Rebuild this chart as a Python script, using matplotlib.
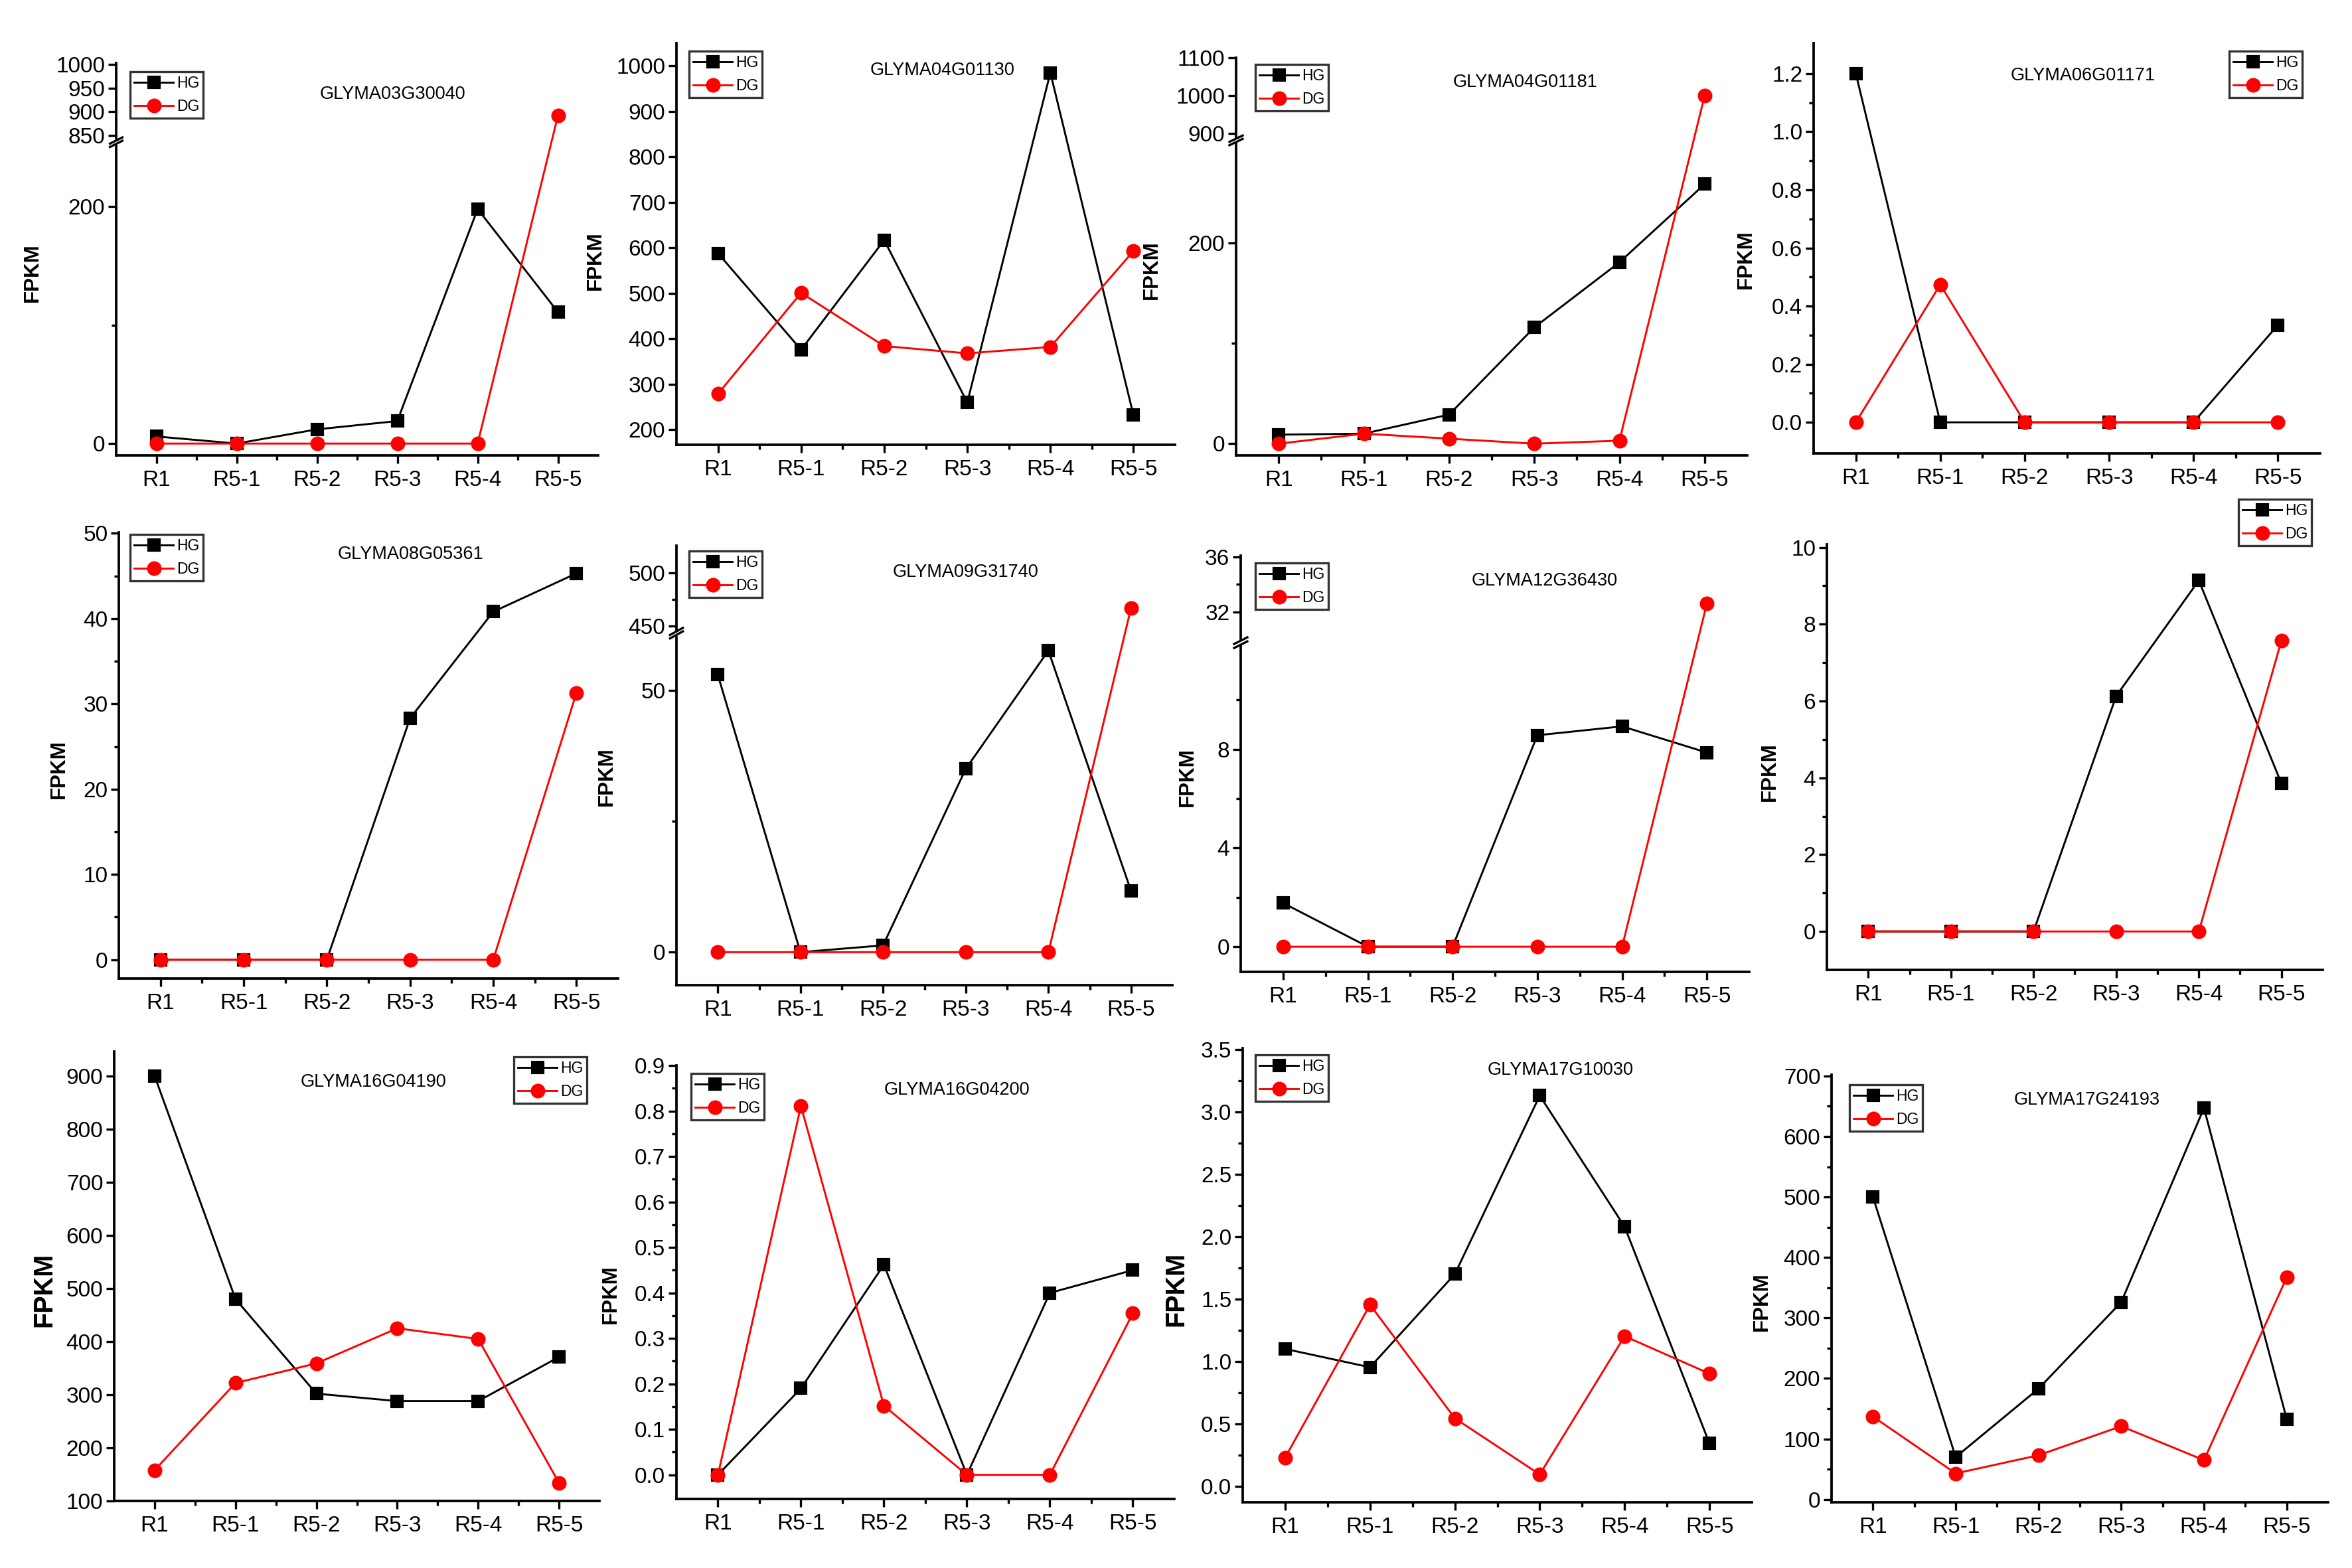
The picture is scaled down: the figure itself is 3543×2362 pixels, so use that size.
import numpy as np
import matplotlib.pyplot as plt
from matplotlib.ticker import FixedLocator, FormatStrFormatter
from matplotlib.patches import Rectangle

plt.rcParams['font.family'] = ['Liberation Sans', 'DejaVu Sans']

# ---- data ----
stages = ['R1', 'R5-1', 'R5-2', 'R5-3', 'R5-4', 'R5-5']
genes = ['GLYMA03G30040', 'GLYMA04G01130', 'GLYMA04G01181', 'GLYMA06G01171',
         'GLYMA08G05361', 'GLYMA09G31740', 'GLYMA12G36430', '',
         'GLYMA16G04190', 'GLYMA16G04200', 'GLYMA17G10030', 'GLYMA17G24193']
hg = [
    [6, 0, 12, 19, 198, 111],
    [588, 376, 617, 260, 985, 232],
    [9, 10, 29, 116, 181, 259],
    [1.2, 0, 0, 0, 0, 0.335],
    [0, 0, 0, 28.3, 40.8, 45.3],
    [53.0, 0, 1.3, 35.0, 57.6, 11.7],
    [1.77, 0, 0, 8.57, 8.93, 7.87],
    [0, 0, 0, 6.13, 9.14, 3.85],
    [900, 480, 302, 288, 288, 371],
    [0, 0.19, 0.462, 0, 0.40, 0.45],
    [1.10, 0.953, 1.70, 3.13, 2.08, 0.343],
    [500, 70, 183, 326, 647, 133],
]
dg = [
    [0, 0, 0, 0, 0, 892],
    [279, 501, 384, 368, 382, 593],
    [0, 10, 5, 0, 3, 1000],
    [0, 0.474, 0, 0, 0, 0],
    [0, 0, 0, 0, 0, 31.3],
    [0, 0, 0, 0, 0, 467],
    [0, 0, 0, 0, 0, 32.6],
    [0, 0, 0, 0, 0, 7.58],
    [158, 322, 359, 425, 405, 134],
    [0, 0.811, 0.152, 0, 0, 0.355],
    [0.229, 1.454, 0.544, 0.094, 1.202, 0.902],
    [137, 43, 73, 121, 65, 367],
]

# ---- layout (pixels in the 3543x2362 image) ----
W, H = 3543, 2362
# left, right, top, bottom
boxes = [
    (175, 901, 95, 686), (1019, 1770, 65, 670), (1862, 2632, 87, 686), (2732, 3495, 65, 683),
    (179, 931, 802, 1474), (1019, 1766, 822, 1484), (1869, 2635, 837, 1464), (2752, 3499, 820, 1461),
    (172, 903, 1584, 2261), (1019, 1769, 1605, 2258), (1872, 2639, 1579, 2263), (2759, 3507, 1619, 2263),
]
ylims = [(-10, 1003), (167, 1050), (-11.7, 1100), (-0.107, 1.305),
         (-2.2, 50.1), (-6.3, 525.3), (-1.02, 36.1), (-1.0, 10.08),
         (100, 946), (-0.053, 0.9), (-0.129, 3.51), (-4.7, 702)]
# broken axes: (top of lower part, bottom of upper part, lower fraction, gap fraction)
breaks = [(253, 839, 0.794, 0.0086), None, (301, 886.7, 0.788, 0.0085), None,
          None, (60.6, 445.2, 0.797, 0.0079), (12.24, 29.9, 0.786, 0.0097), None,
          None, None, None, None]
major = [[0, 200, 850, 900, 950, 1000], list(range(200, 1001, 100)), [0, 200, 900, 1000, 1100],
         list(np.arange(0, 1.21, 0.2)),
         list(range(0, 51, 10)), [0, 50, 450, 500], [0, 4, 8, 32, 36], list(range(0, 11, 2)),
         list(range(100, 901, 100)), list(np.arange(0, 0.91, 0.1)), list(np.arange(0, 3.51, 0.5)),
         list(range(0, 701, 100))]
minor = [[100], [], [100], list(np.arange(0.1, 1.3, 0.2)),
         list(range(5, 50, 10)), [25, 475], [2, 6, 10, 34], list(range(1, 10, 2)),
         [], list(np.arange(0.05, 0.9, 0.1)), list(np.arange(0.25, 3.5, 0.5)), list(range(50, 700, 100))]
fmts = ['%d', '%d', '%d', '%.1f', '%d', '%d', '%d', '%d', '%d', '%.1f', '%.1f', '%d']
legend_pos = [(196, 108), (1038, 77), (1891, 97), (3358, 77),
              (196, 805), (1038, 830), (1891, 848), (3372, 752),
              (774, 1592), (1041, 1617), (1891, 1589), (2786, 1634)]
title_pos = [(591, 142), (1420, 106), (2298, 124), (3138, 114),
             (619, 835), (1454, 862), (2327, 875), (0, 0),
             (563, 1630), (1441, 1642), (2351, 1612), (3144, 1657)]
ylab_pos = [(49, 411), (897, 393), (1735, 407), (2630, 391),
            (89, 1159), (914, 1170), (1789, 1171), (2666, 1163),
            (66, 1943), (920, 1950), (1771, 1942), (2654, 1961)]
ylab_size = [7.5, 7.5, 7.5, 7.5, 7.5, 7.5, 7.5, 7.5, 9.5, 7.5, 9.5, 7.5]


def broken_scale(lo, hi, b0, b1, frac, gap):
    def fwd(y):
        y = np.asarray(y, dtype=float)
        low = (y - lo) / (b0 - lo) * frac
        mid = frac + (y - b0) / (b1 - b0) * gap
        up = frac + gap + (y - b1) / (hi - b1) * (1 - frac - gap)
        return np.where(y <= b0, low, np.where(y >= b1, up, mid))

    def inv(u):
        u = np.asarray(u, dtype=float)
        low = lo + u / frac * (b0 - lo)
        mid = b0 + (u - frac) / gap * (b1 - b0)
        up = b1 + (u - frac - gap) / (1 - frac - gap) * (hi - b1)
        return np.where(u <= frac, low, np.where(u >= frac + gap, up, mid))
    return fwd, inv


fig = plt.figure(figsize=(W / 300, H / 300), dpi=300)
x = np.arange(1, 7)

for i in range(12):
    l, r, t, b = boxes[i]
    ax = fig.add_axes([l / W, 1 - b / H, (r - l) / W, (b - t) / H])
    lo, hi = ylims[i]
    if breaks[i] is not None:
        b0, b1, frac, gap = breaks[i]
        ax.set_yscale('function', functions=broken_scale(lo, hi, b0, b1, frac, gap))
    ax.set_ylim(lo, hi)
    ax.set_xlim(0.5, 6.5)

    ax.plot(x, hg[i], color='black', marker='s', ms=4.0, lw=0.7, label='HG', clip_on=False, zorder=3)
    ax.plot(x, dg[i], color='red', marker='o', ms=4.3, lw=0.7, label='DG', clip_on=False, zorder=4)

    for side in ['top', 'right']:
        ax.spines[side].set_visible(False)
    for side in ['left', 'bottom']:
        ax.spines[side].set_linewidth(0.9)

    ax.set_xticks(x)
    ax.set_xticklabels(stages)
    ax.xaxis.set_minor_locator(FixedLocator(np.arange(1.5, 6, 1.0)))
    ax.yaxis.set_major_locator(FixedLocator(major[i]))
    ax.yaxis.set_minor_locator(FixedLocator(minor[i]))
    ax.yaxis.set_major_formatter(FormatStrFormatter(fmts[i]))
    ax.tick_params(which='major', direction='out', length=2.8, width=0.8, labelsize=8)
    ax.tick_params(which='minor', direction='out', length=1.6, width=0.8)
    ax.tick_params(axis='x', which='major', pad=2.5)
    ax.tick_params(axis='y', which='major', pad=1.2)

    if breaks[i] is not None:
        ax.add_patch(Rectangle((-0.01, frac - 0.002), 0.02, gap + 0.004, transform=ax.transAxes,
                               facecolor='white', edgecolor='none', clip_on=False, zorder=5))
        for yy in (frac, frac + gap):
            ax.plot([-0.013, 0.013], [yy - 0.008, yy + 0.008], transform=ax.transAxes,
                    color='black', lw=0.8, clip_on=False, zorder=6)

    leg = ax.legend(loc='upper left', bbox_to_anchor=(legend_pos[i][0] / W, 1 - legend_pos[i][1] / H),
                    bbox_transform=fig.transFigure, frameon=True, fancybox=False, edgecolor='black',
                    fontsize=5.5, handlelength=2.6, handletextpad=0.2, borderpad=0.25,
                    labelspacing=0.55, borderaxespad=0)
    leg.get_frame().set_linewidth(0.8)

    if genes[i]:
        fig.text(title_pos[i][0] / W, 1 - title_pos[i][1] / H, genes[i], ha='center', va='center',
                 fontsize=6.5)
    fig.text(ylab_pos[i][0] / W, 1 - ylab_pos[i][1] / H, 'FPKM', rotation=90, ha='center', va='center',
             fontsize=ylab_size[i], fontweight='bold')

fig.savefig('out.png', dpi=300, facecolor='white')
